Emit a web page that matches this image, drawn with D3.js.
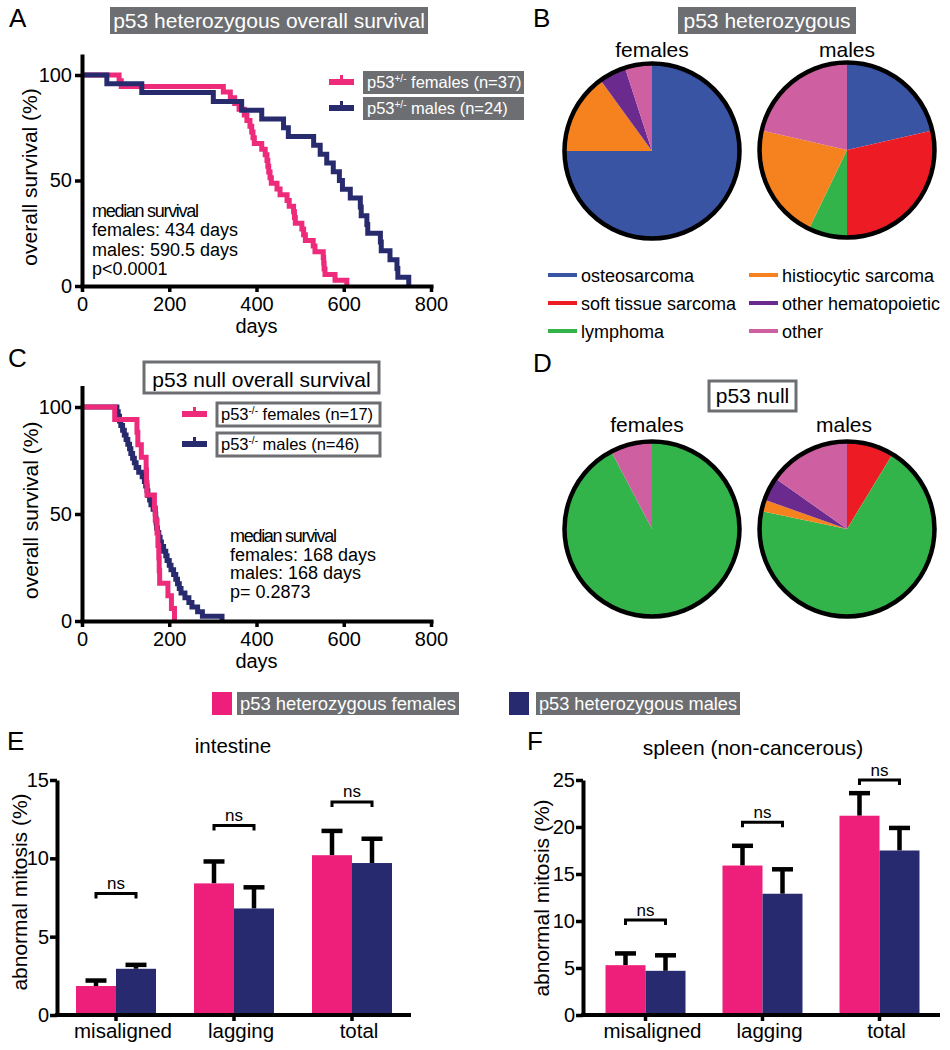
<!DOCTYPE html>
<html><head><meta charset="utf-8">
<script src="https://cdn.jsdelivr.net/npm/d3@7"></script>
<style>
body{margin:0;background:#fff}
svg{display:block}
text{font-family:"Liberation Sans",Arial,Helvetica,sans-serif}
</style>
</head><body>
<svg id="c" width="950" height="1050"></svg>
<script>
// ---------------- DATA ----------------
// Kaplan-Meier event days (each entry = one death)
const hetFemaleDeaths = [85,90,324,340,350,360,372,378,385,389,392,395,412,420,424,426,428,431,434,447,454,470,475,485,487,489,504,508,512,530,534,553,554,555,557,580,607];
const hetMaleDeaths = [57,137,301,366,412,462,473,531,546,561,576,590,597,615,638,640,653,655,684,686,706,722,724,749];
const nullFemaleDeaths = [75,126,128,136,147,148,149,166,168,172,174,176,177,178,197,205,212];
const nullMaleDeaths = [80,83,86,89,93,97,101,105,109,112,116,120,124,130,138,143,146,149,151,155,158,163,168,169,170,171,173,176,179,182,187,192,195,200,204,210,215,219,223,227,236,245,252,265,276,321];
const survTicksX = [0,200,400,600,800];
const survTicksY = [0,50,100];
const hetLegend = [["+/-"," females (n=37)"],["+/-"," males (n=24)"]];
const nullLegend = [["-/-"," females (n=17)"],["-/-"," males (n=46)"]];
const hetMedian = ["median survival","females: 434 days","males: 590.5 days","p<0.0001"];
const nullMedian = ["median survival","females: 168 days","males: 168 days","p= 0.2873"];

// tumor spectrum (counts, in legend order)
const tumorTypes = ["osteosarcoma","soft tissue sarcoma","lymphoma","histiocytic sarcoma","other hematopoietic","other"];
const tumorColors = ["#3A54A4","#ED1C24","#33B44A","#F5821F","#6A2A8E","#CE5FA1"];
const hetFemaleTumors = [15,0,0,3,1,1];
const hetMaleTumors = [3,4,1,3,0,3];
const nullFemaleTumors = [0,0,12,0,0,1];
const nullMaleTumors = [0,4,32,1,2,7];

// abnormal mitosis (%)
const mitosisCats = ["misaligned","lagging","total"];
const intestineFemales = [1.85,8.4,10.2];
const intestineFemalesErr = [0.35,1.4,1.55];
const intestineMales = [2.95,6.8,9.7];
const intestineMalesErr = [0.25,1.35,1.55];
const intestineNs = [7.75,12.1,13.6];
const intestineTicks = [0,5,10,15];
const spleenFemales = [5.3,15.9,21.2];
const spleenFemalesErr = [1.25,2.1,2.4];
const spleenMales = [4.7,12.9,17.5];
const spleenMalesErr = [1.65,2.6,2.4];
const spleenNs = [10.1,20.5,25.0];
const spleenTicks = [0,5,10,15,20,25];
const barLegend = ["p53 heterozygous females","p53 heterozygous males"];

// ---------------- STYLE ----------------
const PINK = "#EE2A7B", NAVY = "#272B6D";
const BPINK = "#EE1F7B", BNAVY = "#282A70";
const GRAY = "#6D6E71";

const svg = d3.select("#c");

function label(x, y, s, size, opts = {}) {
  const t = svg.append("text").attr("x", x).attr("y", y).attr("font-size", size)
    .attr("fill", opts.fill || "#000").attr("text-anchor", opts.anchor || "start").text(s);
  if (opts.len) t.attr("textLength", opts.len).attr("lengthAdjust", opts.adj || "spacing");
  return t;
}

function styleAxis(g, size) {
  g.attr("font-size", size);
  g.selectAll(".domain").attr("stroke", "#000").attr("stroke-width", 4);
  g.selectAll(".tick line").attr("stroke", "#000").attr("stroke-width", 3.5);
  g.selectAll(".tick text").attr("fill", "#000");
}

// ---------------- panel letters ----------------
[["A",9,27],["B",533,27],["C",8,367],["D",533,372],["E",7,750],["F",527,750]]
  .forEach(d => label(d[1], d[2], d[0], 26));

// ---------------- survival panels ----------------
function kmPoints(deaths) {
  const n = deaths.length;
  const pts = [[0, 100]];
  deaths.forEach((t, i) => pts.push([t, (n - i - 1) / n * 100]));
  return pts;
}

function survPanel(cfg) {
  const x = d3.scaleLinear().domain([0, 800]).range([82, 431]);
  const y = d3.scaleLinear().domain([0, 100]).range([cfg.y0, cfg.y100]);
  const yTop = y(110);
  const line = d3.line().x(d => x(d[0])).y(d => y(d[1])).curve(d3.curveStepAfter);
  const series = cfg.order.map(k => cfg.series[k]);
  series.forEach(s => {
    svg.append("path").attr("d", line(kmPoints(s.deaths))).attr("fill", "none")
      .attr("stroke", s.color).attr("stroke-width", 5).attr("stroke-linejoin", "miter");
  });
  const yAxis = d3.axisLeft(d3.scaleLinear().domain([0, 110]).range([cfg.y0, yTop]))
    .tickValues(survTicksY).tickSize(7).tickSizeOuter(0).tickPadding(3);
  const ga = svg.append("g").attr("transform", "translate(82,0)").call(yAxis);
  styleAxis(ga, 20);
  const xAxis = d3.axisBottom(x).tickValues(survTicksX).tickSize(6).tickSizeOuter(0).tickPadding(cfg.xPad);
  const gx = svg.append("g").attr("transform", `translate(0,${cfg.y0})`).call(xAxis);
  styleAxis(gx, 20);
  gx.select(".domain").attr("stroke-linecap", "square");
  label(x(400), cfg.daysY, "days", 20, {anchor: "middle"});
  svg.append("text").attr("transform", `translate(${cfg.ylabX},${(cfg.y0 + yTop) / 2 + 7}) rotate(-90)`)
    .attr("text-anchor", "middle").attr("font-size", 21).text("overall survival (%)");
  // median text
  cfg.median.forEach((s, i) => {
    const t = label(cfg.medX, cfg.medY[i], s, 18);
    if (i === 0) t.attr("textLength", 107).attr("lengthAdjust", "spacing");
  });
  // legend
  cfg.legend.forEach((L, i) => {
    const s = cfg.series[i];
    const ly = cfg.legY[i];
    svg.append("line").attr("x1", cfg.legX0).attr("x2", cfg.legX0 + 25).attr("y1", ly).attr("y2", ly)
      .attr("stroke", s.color).attr("stroke-width", 6);
    svg.append("line").attr("x1", cfg.legX0 + 12.5).attr("x2", cfg.legX0 + 12.5).attr("y1", ly - 7).attr("y2", ly)
      .attr("stroke", s.color).attr("stroke-width", 3);
    const r = svg.append("rect").attr("x", cfg.boxX).attr("y", ly - 11).attr("width", cfg.boxW).attr("height", 23);
    if (cfg.filled) r.attr("fill", GRAY);
    else r.attr("fill", "#fff").attr("stroke", GRAY).attr("stroke-width", 3);
    const t = svg.append("text").attr("x", cfg.boxX + 4).attr("y", ly + 6).attr("font-size", 16.5)
      .attr("fill", cfg.filled ? "#fff" : "#000");
    t.append("tspan").text("p53");
    t.append("tspan").attr("font-size", 10).attr("dy", -6.5).text(L[0]);
    t.append("tspan").attr("dy", 6.5).text(L[1]);
  });
}

// title boxes
function titleBox(x0, y0, w, h, s, filled, tx, ty) {
  const r = svg.append("rect").attr("x", x0).attr("y", y0).attr("width", w).attr("height", h);
  if (filled) r.attr("fill", GRAY);
  else r.attr("fill", "#fff").attr("stroke", GRAY).attr("stroke-width", 3);
  label(tx, ty, s, 21, {anchor: "middle", fill: filled ? "#fff" : "#000"});
}

titleBox(110, 7, 318, 27, "p53 heterozygous overall survival", true, 269, 28);
survPanel({
  y0: 286, y100: 75, xPad: 5, daysY: 333, ylabX: 37,
  series: [{deaths: hetFemaleDeaths, color: PINK}, {deaths: hetMaleDeaths, color: NAVY}],
  order: [0, 1],
  median: hetMedian, medX: 92, medY: [217, 236, 256, 275],
  legend: hetLegend, legY: [82, 108], legX0: 329, boxX: 363, boxW: 161, filled: true
});

titleBox(144, 362, 235, 31, "p53 null overall survival", false, 261.5, 387);
survPanel({
  y0: 621, y100: 407, xPad: 5, daysY: 668, ylabX: 38,
  series: [{deaths: nullFemaleDeaths, color: PINK}, {deaths: nullMaleDeaths, color: NAVY}],
  order: [1, 0],
  median: nullMedian, medX: 230, medY: [542, 561, 579, 598],
  legend: nullLegend, legY: [414, 444], legX0: 182, boxX: 217, boxW: 163, filled: false
});

// ---------------- pies ----------------
const pieGen = d3.pie().sort(null).value(d => d);
const arcGen = d3.arc().innerRadius(0).outerRadius(87.5);
function drawPie(cx, cy, counts, title, tx, ty) {
  const g = svg.append("g").attr("transform", `translate(${cx},${cy})`);
  g.selectAll("path").data(pieGen(counts)).join("path")
    .attr("d", arcGen).attr("fill", (d, i) => tumorColors[i]);
  g.append("circle").attr("r", 87.5).attr("fill", "none").attr("stroke", "#000").attr("stroke-width", 4.5);
  label(tx, ty, title, 21, {anchor: "middle"});
}
titleBox(678, 7, 178, 27, "p53 heterozygous", true, 767, 28);
drawPie(652, 151, hetFemaleTumors, "females", 652, 57);
drawPie(847, 150, hetMaleTumors, "males", 847, 57);
titleBox(709, 381, 87, 30, "p53 null", false, 752.5, 403);
drawPie(652, 529, nullFemaleTumors, "females", 647, 432);
drawPie(847, 529, nullMaleTumors, "males", 844, 432);

// tumor legend
tumorTypes.forEach((s, i) => {
  const col = Math.floor(i / 3), row = i % 3;
  const lx = col === 0 ? 548 : 749;
  const ly = 275 + row * 28;
  svg.append("line").attr("x1", lx).attr("x2", lx + 29).attr("y1", ly).attr("y2", ly)
    .attr("stroke", tumorColors[i]).attr("stroke-width", 4);
  label(lx + 33, ly + 6.5, s, 18);
});

// ---------------- bar legend ----------------
[[212, 237, 222, BPINK], [509, 536, 204, BNAVY]].forEach((d, i) => {
  svg.append("rect").attr("x", d[0]).attr("y", 692).attr("width", 20).attr("height", 23)
    .attr("fill", d[3]);
  svg.append("rect").attr("x", d[1]).attr("y", 692).attr("width", d[2]).attr("height", 23).attr("fill", GRAY);
  label(d[1] + 3, 710, barLegend[i], 18, {fill: "#fff", len: d[2] - 6, adj: "spacingAndGlyphs"});
});

// ---------------- bar panels ----------------
function barPanel(cfg) {
  const x = d3.scaleBand().domain(mitosisCats).range(cfg.band);
  const sub = d3.scaleBand().domain(["f", "m"]).range([-40, 40]);
  const y = d3.scaleLinear().domain([0, cfg.max]).range([1015, 780]);
  const groups = [
    {k: "f", vals: cfg.f, err: cfg.fe, color: BPINK},
    {k: "m", vals: cfg.m, err: cfg.me, color: BNAVY}
  ];
  const center = c => x(c) + x.bandwidth() / 2;
  groups.forEach(gr => {
    mitosisCats.forEach((c, i) => {
      const bx = center(c) + sub(gr.k);
      const mid = bx + sub.bandwidth() / 2;
      svg.append("line").attr("x1", mid).attr("x2", mid).attr("y1", y(gr.vals[i])).attr("y2", y(gr.vals[i] + gr.err[i]))
        .attr("stroke", "#000").attr("stroke-width", 4.5);
      svg.append("line").attr("x1", mid - 10.5).attr("x2", mid + 10.5)
        .attr("y1", y(gr.vals[i] + gr.err[i])).attr("y2", y(gr.vals[i] + gr.err[i]))
        .attr("stroke", "#000").attr("stroke-width", 4.5);
      svg.append("rect").attr("x", bx).attr("y", y(gr.vals[i])).attr("width", sub.bandwidth())
        .attr("height", y(0) - y(gr.vals[i])).attr("fill", gr.color);
    });
  });
  // ns brackets
  mitosisCats.forEach((c, i) => {
    const xf = center(c) + sub("f") + sub.bandwidth() / 2;
    const xm = center(c) + sub("m") + sub.bandwidth() / 2;
    const by = y(cfg.ns[i]);
    svg.append("path").attr("d", `M${xf},${by + 5}V${by}H${xm}V${by + 5}`)
      .attr("fill", "none").attr("stroke", "#000").attr("stroke-width", 3);
    label((xf + xm) / 2, by - 4.5, "ns", 17, {anchor: "middle"});
  });
  const ga = svg.append("g").attr("transform", `translate(${cfg.x0},0)`)
    .call(d3.axisLeft(y).tickValues(cfg.ticks).tickSize(7).tickSizeOuter(0).tickPadding(1));
  styleAxis(ga, 20);
  const gx = svg.append("g").attr("transform", "translate(0,1015)")
    .call(d3.axisBottom(x).tickSize(6).tickSizeOuter(0).tickPadding(2));
  styleAxis(gx, 20);
  gx.select(".domain").remove();
  gx.selectAll(".tick text").attr("dx", 7).attr("font-size", 20.5);
  svg.append("line").attr("x1", cfg.x0 - 2).attr("x2", cfg.x1).attr("y1", 1015).attr("y2", 1015)
    .attr("stroke", "#000").attr("stroke-width", 4);
  svg.append("text").attr("transform", `translate(${cfg.ylabX},${cfg.ylabY}) rotate(-90)`)
    .attr("text-anchor", "middle").attr("font-size", 21).text("abnormal mitosis (%)");
  label(cfg.titleX, cfg.titleY, cfg.title, cfg.titleSize, {anchor: "middle"});
}

barPanel({
  band: [57, 411], x0: 57, x1: 411, max: 15, ticks: intestineTicks,
  f: intestineFemales, fe: intestineFemalesErr, m: intestineMales, me: intestineMalesErr, ns: intestineNs,
  ylabX: 27, ylabY: 892, title: "intestine", titleX: 233, titleY: 753, titleSize: 20.5
});
barPanel({
  band: [587, 938], x0: 583, x1: 940, max: 25, ticks: spleenTicks,
  f: spleenFemales, fe: spleenFemalesErr, m: spleenMales, me: spleenMalesErr, ns: spleenNs,
  ylabX: 549, ylabY: 898, title: "spleen (non-cancerous)", titleX: 753, titleY: 755, titleSize: 21
});
</script>
</body></html>
